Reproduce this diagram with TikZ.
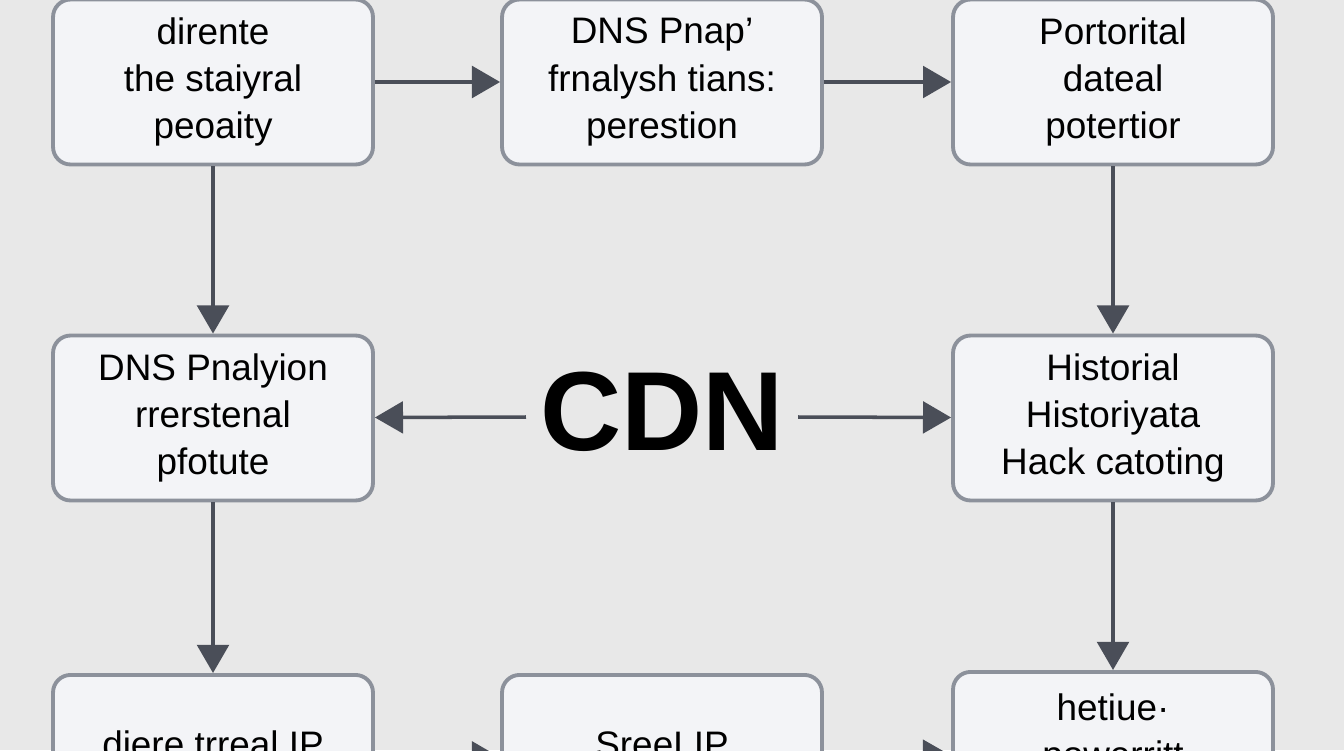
\documentclass[tikz,border=0pt]{standalone}
\usepackage{fontspec}
\setmainfont{Liberation Sans}
\usetikzlibrary{positioning}
\usetikzlibrary{arrows.meta}
\definecolor{bgcol}{HTML}{E8E8E8}
\definecolor{boxfill}{HTML}{F3F4F7}
\definecolor{boxline}{HTML}{8C919B}
\definecolor{arrcol}{HTML}{4A4E58}

\begin{document}
\begin{tikzpicture}[x=0.02cm,y=-0.02cm,
        stage/.style={draw=boxline, line width=2.2pt, fill=boxfill, rounded corners=10pt,
            minimum width=6.4cm, minimum height=3.3cm, align=center, font=\fontsize{21}{27}\selectfont},
        flow/.style={draw=arrcol, line width=2pt, -{Triangle[length=16pt,width=18pt]}}]
        \clip (0,0) rectangle (1344,750);
        \fill[bgcol] (0,0) rectangle (1344,750);
        \node[stage] (direct) at (213,82) {dirente\\the staiyral\\peoaity};
        \node[stage] (dns) at (662,82) {DNS Pnap’\\frnalysh tians:\\perestion};
        \node[stage] (portal) at (1113,82) {Portorital\\dateal\\potertior};
        \node[stage] (dnsan) at (213,418) {DNS Pnalyion\\rrerstenal\\pfotute};
        \node[font=\fontsize{64}{70}\selectfont\bfseries] (cdn) at (662,412) {CDN};
        \node[stage] (hist) at (1113,418) {Historial\\Historiyata\\Hack catoting};
        \node[stage, anchor=north] (real) at (213,673) {\mbox{}\\diere trreal IP\\\mbox{}};
        \node[stage, anchor=north] (sree) at (662,673) {\mbox{}\\SreeLIP\\\mbox{}};
        \node[stage, anchor=north] (heti) at (1113,670) {hetiue·\\powerritt\\\mbox{}};
        % connectors
        \draw[flow] (direct) -- (dns);
        \draw[flow] (dns) -- (portal);
        \draw[flow] (direct) -- (dnsan);
        \draw[flow] (portal) -- (hist);
        \coordinate (cw) at ([xshift=-0.16cm,yshift=-0.1cm]cdn.west);
        \coordinate (ce) at ([xshift=0.16cm,yshift=-0.1cm]cdn.east);
        \draw[flow] (cw) -- (dnsan);
        \draw[flow] (ce) -- (hist);
        \draw[flow] (dnsan) -- (real);
        \draw[flow] (hist) -- (heti);
        \draw[flow] (real) -- (sree);
        \draw[flow] (sree) -- (heti);
\end{tikzpicture}
\end{document}
